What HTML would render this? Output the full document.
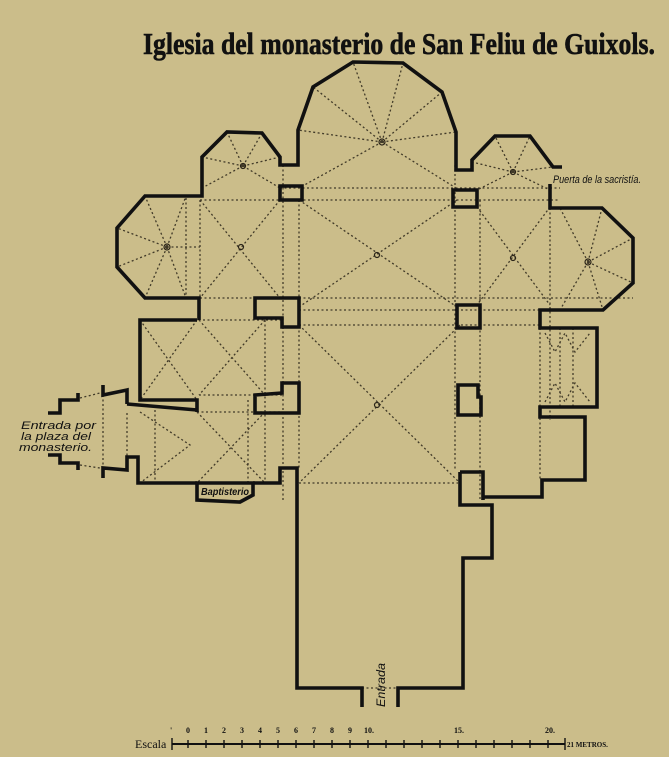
<!DOCTYPE html>
<html><head><meta charset="utf-8"><style>
html,body{margin:0;padding:0;background:#cbbd8a;}
svg{display:block}
</style></head><body>
<svg width="669" height="757" viewBox="0 0 669 757" xmlns="http://www.w3.org/2000/svg">
<rect width="669" height="757" fill="#cbbd8a"/>
<text x="143" y="54" font-family="Liberation Serif, serif" font-weight="bold" font-size="31" textLength="512" lengthAdjust="spacingAndGlyphs" fill="#111" stroke="#111" stroke-width="0.6">Iglesia del monasterio de San Feliu de Guixols.</text>

<!-- dotted lines -->
<g stroke="#2a2418" stroke-width="1.3" stroke-dasharray="2,2.5" fill="none" opacity="0.85">
 <path d="M382 142 L298 130 M382 142 L313 87 M382 142 L353 62 M382 142 L403 63 M382 142 L442 92 M382 142 L456 132 M382 142 L299 188 M382 142 L456 188"/>
 <path d="M280 188 L560 188 M200 200 L560 200 M200 298 L633 298 M299 310 L540 310 M299 325 L540 325 M299 483 L458 483 M140 320 L282 320 M199 395 L282 395 M197 412 L282 412"/>
 <path d="M283 165 L283 500 M299 200 L299 470 M455 165 L455 470 M480 200 L480 500 M200 200 L200 298 M186 198 L186 298 M550 208 L550 420 M540 310 L540 480 M248 400 L248 483 M265 320 L265 483 M155 410 L155 483 M127 413 L127 457 M103 395 L103 468 M573 328 L573 407 M560 328 L560 407"/>
 <path d="M299 200 L457 307 M457 200 L299 307"/>
 <path d="M299 325 L460 483 M460 325 L299 483"/>
 <path d="M200 200 L280 298 M280 200 L200 298"/>
 <path d="M477 207 L550 305 M550 207 L477 305"/>
 <path d="M167 247 L145 196 M167 247 L117 228 M167 247 L117 267 M167 247 L145 298 M167 247 L186 298 M167 247 L186 196 M167 247 L200 247"/>
 <path d="M588 262 L602 208 M588 262 L633 238 M588 262 L633 283 M588 262 L603 310 M588 262 L560 310 M588 262 L560 208"/>
 <path d="M243 166 L227 132 M243 166 L262 133 M243 166 L280 157 M243 166 L202 157 M243 166 L202 188 M243 166 L280 188"/>
 <path d="M513 172 L495 136 M513 172 L530 136 M513 172 L553 167 M513 172 L472 162 M513 172 L477 190 M513 172 L550 190"/>
 <path d="M140 320 L197 400 M197 320 L140 400"/>
 <path d="M199 320 L265 395 M265 320 L199 395"/>
 <path d="M197 412 L265 483 M265 412 L197 483 M140 412 L190 445 L140 483"/>
 <path d="M545 333 L555 352 L565 333 L575 352 L590 333 M545 402 L555 383 L565 402 L575 383 L590 402"/>
 <path d="M80 398 L100 393 M80 465 L100 468 M362 688 L398 688"/>
</g>
<g fill="none" stroke="#2a2418" stroke-width="1.2">
 <circle cx="382" cy="142" r="3"/><circle cx="377" cy="255" r="2.5"/><circle cx="377" cy="405" r="2.5"/>
 <circle cx="241" cy="247" r="2.5"/><circle cx="513" cy="258" r="2.5"/><circle cx="167" cy="247" r="3"/>
 <circle cx="588" cy="262" r="3"/><circle cx="243" cy="166" r="2.5"/><circle cx="513" cy="172" r="2.5"/>
</g>

<g stroke="#111" stroke-width="3.6" fill="none" stroke-linejoin="miter">
 <path d="M199 320 L199 298 L145 298 L117 267 L117 228 L145 196 L202 196 L202 157 L227 132 L262 133 L280 157 L280 165 L298 165 L298 130 L313 87 L353 62 L403 63 L442 92 L456 132 L456 170 L472 170 L472 160 L495 136 L530 136 L553 167 L562 167"/>
 <path d="M550 184 L550 208 L602 208 L633 238 L633 283 L603 310 L540 310 L540 328 L597 328 L597 407 L540 407 L540 417 L585 417 L585 480 L542 480 L542 497 L483 497"/>
 <path d="M460 472 L460 505 L492 505 L492 558 L463 558 L463 688 L398 688 L398 707"/>
 <path d="M362 707 L362 688 L297 688 L297 468 L280 468 L280 483 L253 483"/>
 <path d="M197 320 L140 320 L140 400 L197 400 L197 412 M127 404 L197 410"/>
 <path d="M197 483 L138 483 L138 457 L127 457 L127 470 L103 468 L103 478"/>
 <path d="M103 385 L103 395 L127 390 L127 404"/>
 <path d="M78 393 L78 400 L60 400 L60 413 L48 413"/>
 <path d="M48 455 L60 455 L60 463 L78 463 L78 470"/>
 <path d="M197 483 L197 500 L240 502 L253 495 L253 483 Z"/>
 <path d="M280 186 L302 186 L302 200 L280 200 Z"/>
 <path d="M453 190 L477 190 L477 207 L453 207 Z"/>
 <path d="M255 298 L299 298 L299 327 L282 327 L282 318 L255 318 Z"/>
 <path d="M457 305 L480 305 L480 328 L457 328 Z"/>
 <path d="M255 395 L282 393 L282 383 L299 383 L299 413 L255 413 Z"/>
 <path d="M458 385 L478 385 L478 397 L481 397 L481 415 L458 415 Z"/>
 <path d="M460 472 L483 472 L483 500"/>
</g>

<g font-family="Liberation Sans, sans-serif" font-style="italic" fill="#111">
 <text x="553" y="183" font-size="11" textLength="88" lengthAdjust="spacingAndGlyphs">Puerta de la sacristía.</text>
 <text x="201" y="495" font-size="10" font-weight="bold" textLength="48" lengthAdjust="spacingAndGlyphs">Baptisterio</text>
 <text x="21" y="429" font-size="11" textLength="75" lengthAdjust="spacingAndGlyphs">Entrada por</text>
 <text x="21" y="440" font-size="11" textLength="70" lengthAdjust="spacingAndGlyphs">la plaza del</text>
 <text x="19" y="451" font-size="11" textLength="73" lengthAdjust="spacingAndGlyphs">monasterio.</text>
 <text transform="translate(385,707) rotate(-90)" font-size="12" textLength="44" lengthAdjust="spacingAndGlyphs">Entrada</text>
</g>

<g fill="#111" font-family="Liberation Serif, serif">
 <text x="135" y="748" font-size="12">Escala</text>
 <g stroke="#111" stroke-width="1.4">
  <line x1="172" y1="744" x2="565" y2="744" stroke-width="2"/>
  <line x1="172" y1="738" x2="172" y2="750"/><line x1="565" y1="738" x2="565" y2="750"/>
  <line x1="188" y1="740" x2="188" y2="748"/><line x1="206" y1="740" x2="206" y2="748"/><line x1="224" y1="740" x2="224" y2="748"/><line x1="242" y1="740" x2="242" y2="748"/><line x1="260" y1="740" x2="260" y2="748"/><line x1="278" y1="740" x2="278" y2="748"/><line x1="296" y1="740" x2="296" y2="748"/><line x1="314" y1="740" x2="314" y2="748"/><line x1="332" y1="740" x2="332" y2="748"/><line x1="350" y1="740" x2="350" y2="748"/><line x1="368" y1="740" x2="368" y2="748"/><line x1="386" y1="740" x2="386" y2="748"/><line x1="404" y1="740" x2="404" y2="748"/><line x1="422" y1="740" x2="422" y2="748"/><line x1="440" y1="740" x2="440" y2="748"/><line x1="458" y1="740" x2="458" y2="748"/><line x1="476" y1="740" x2="476" y2="748"/><line x1="494" y1="740" x2="494" y2="748"/><line x1="512" y1="740" x2="512" y2="748"/><line x1="530" y1="740" x2="530" y2="748"/><line x1="548" y1="740" x2="548" y2="748"/>
 </g>
 <g font-size="8" font-weight="bold">
  <text x="170" y="733">'</text><text x="186" y="733">0</text><text x="204" y="733">1</text><text x="222" y="733">2</text><text x="240" y="733">3</text><text x="258" y="733">4</text><text x="276" y="733">5</text><text x="294" y="733">6</text><text x="312" y="733">7</text><text x="330" y="733">8</text><text x="348" y="733">9</text><text x="364" y="733">10.</text><text x="454" y="733">15.</text><text x="545" y="733">20.</text>
  <text x="567" y="747" font-size="7">21 METROS.</text>
 </g>
</g>
</svg>
</body></html>
